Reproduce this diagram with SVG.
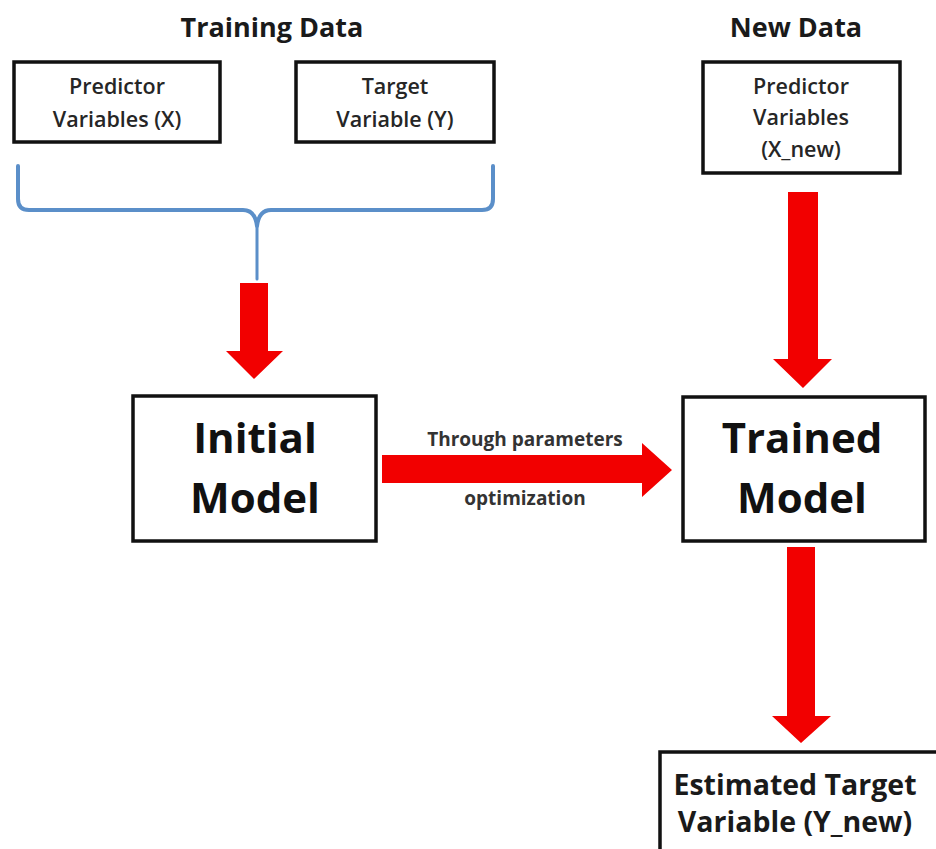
<svg xmlns="http://www.w3.org/2000/svg" width="936" height="849" viewBox="0 0 936 849">
  <style>
    .box { fill: #ffffff; stroke: #111111; stroke-width: 3.5; }
    .title { font-family: "Open Sans", "Liberation Sans", sans-serif; font-weight: 700; font-size: 27px; fill: #1a1a1a; text-anchor: middle; }
    .small { font-family: "Open Sans", "Liberation Sans", sans-serif; font-weight: 600; font-size: 21.5px; fill: #262626; text-anchor: middle; }
    .big { font-family: "Open Sans", "Liberation Sans", sans-serif; font-weight: 700; font-size: 42px; fill: #111111; text-anchor: middle; }
    .mid { font-family: "Open Sans", "Liberation Sans", sans-serif; font-weight: 700; font-size: 28.5px; fill: #1a1a1a; text-anchor: middle; }
    .label { font-family: "Open Sans", "Liberation Sans", sans-serif; font-weight: 700; font-size: 19px; fill: #333333; text-anchor: middle; }
    .arrow { fill: #f20000; }
    .brace { fill: none; stroke: #5b8fc9; stroke-width: 4; stroke-linejoin: round; stroke-linecap: round; }
  </style>

  <rect width="936" height="849" fill="#ffffff"/>

  <!-- section headings -->
  <text class="title" x="272" y="37">Training Data</text>
  <text class="title" x="796" y="37">New Data</text>

  <g id="predictor-x">
    <rect class="box" x="14" y="62" width="206" height="80"/>
    <text class="small" x="117" y="94">Predictor</text>
    <text class="small" x="117" y="127">Variables (X)</text>
  </g>

  <g id="target-y">
    <rect class="box" x="296" y="62" width="198" height="80"/>
    <text class="small" x="395" y="94">Target</text>
    <text class="small" x="395" y="127">Variable  (Y)</text>
  </g>

  <g id="predictor-x-new">
    <rect class="box" x="703" y="62" width="197" height="111"/>
    <text class="small" x="801" y="94">Predictor</text>
    <text class="small" x="801" y="125">Variables</text>
    <text class="small" x="801" y="157">(X_new)</text>
  </g>

  <g id="initial-model">
    <rect class="box" x="133" y="396" width="243" height="145"/>
    <text class="big" x="255" y="453">Initial</text>
    <text class="big" x="255" y="513">Model</text>
  </g>

  <g id="trained-model">
    <rect class="box" x="683" y="397" width="242" height="144"/>
    <text class="big" x="802" y="453">Trained</text>
    <text class="big" x="802" y="513">Model</text>
  </g>

  <g id="estimated-target">
    <rect class="box" x="660" y="752" width="300" height="120"/>
    <text class="mid" x="795" y="795">Estimated Target</text>
    <text class="mid" x="795" y="832">Variable (Y_new)</text>
  </g>

  <g id="connectors">
    <!-- curly brace grouping the training inputs -->
    <path class="brace" d="M18,166 V199 Q18,210 29,210 H243 Q255,210 257,226 Q259,210 271,210 H482 Q493,210 493,199 V166"/>
    <path class="brace" d="M257,222 V279" style="stroke-width:3"/>

    <!-- training data into the initial model -->
    <path class="arrow" d="M240,283 H268 V351 H283 L254,379 L226,351 H240 Z"/>
    <!-- new data into the trained model -->
    <path class="arrow" d="M788,192 H818 V359 H832 L803,388 L773,359 H788 Z"/>
    <!-- optimization step -->
    <path class="arrow" d="M382,455 H642 V443 L672,470 L642,497 V483 H382 Z"/>
    <text class="label" x="525" y="446">Through parameters</text>
    <text class="label" x="525" y="505">optimization</text>
    <!-- trained model to prediction -->
    <path class="arrow" d="M787,547 H815 V716 H831 L801,743 L772,716 H787 Z"/>
  </g>
</svg>
